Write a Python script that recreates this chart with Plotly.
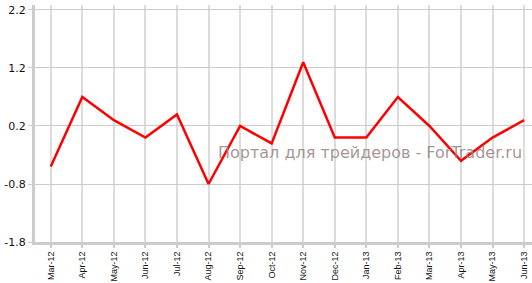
import plotly.graph_objects as go

months = ["Mar-12", "Apr-12", "May-12", "Jun-12", "Jul-12", "Aug-12", "Sep-12", "Oct-12",
          "Nov-12", "Dec-12", "Jan-13", "Feb-13", "Mar-13", "Apr-13", "May-13", "Jun-13"]
values = [-0.5, 0.7, 0.3, 0.0, 0.4, -0.8, 0.2, -0.1, 1.3, 0.0, 0.0, 0.7, 0.2, -0.4, 0.0, 0.3]
y_ticks = [-1.8, -0.8, 0.2, 1.2, 2.2]

fig = go.Figure()
fig.add_trace(go.Scatter(x=list(range(len(months))), y=values, mode="lines",
                         line=dict(color="#ff0000", width=2.5), hoverinfo="skip"))

fig.update_layout(
    width=532, height=283,
    margin=dict(l=35, r=0, t=5, b=41, autoexpand=False),
    paper_bgcolor="white", plot_bgcolor="white",
    showlegend=False,
    font=dict(family="DejaVu Sans", size=10, color="#111"),
    xaxis=dict(
        tickmode="array", tickvals=list(range(len(months))), ticktext=months,
        range=[-0.5, 15.25], tickangle=-90, automargin=False,
        showgrid=True, gridcolor="#dcdcdc", gridwidth=2,
        showline=True, linecolor="#cccccc", linewidth=3,
        ticks="outside", ticklen=3, tickcolor="#cccccc", tickwidth=2,
        zeroline=False, tickfont=dict(size=9, family="Liberation Sans"),
    ),
    yaxis=dict(
        tickmode="array", tickvals=y_ticks, ticktext=[f"{v:.1f}" for v in y_ticks],
        range=[-1.8, 2.286], automargin=False,
        showgrid=True, gridcolor="#cccccc", gridwidth=1,
        showline=True, linecolor="#cccccc", linewidth=3,
        ticks="outside", ticklen=4, tickcolor="#cccccc", tickwidth=1,
        zeroline=False, tickfont=dict(size=11, family="DejaVu Sans"),
    ),
    annotations=[dict(
        text="Портал для трейдеров - ForTrader.ru",
        xref="paper", yref="paper", x=(370 - 35) / 497, y=(283 - 41 - 153) / 237,
        xanchor="center", yanchor="middle", showarrow=False,
        font=dict(family="DejaVu Sans", size=16, color="rgba(150,130,128,0.85)"),
    )],
)

fig.write_html("out.html")
